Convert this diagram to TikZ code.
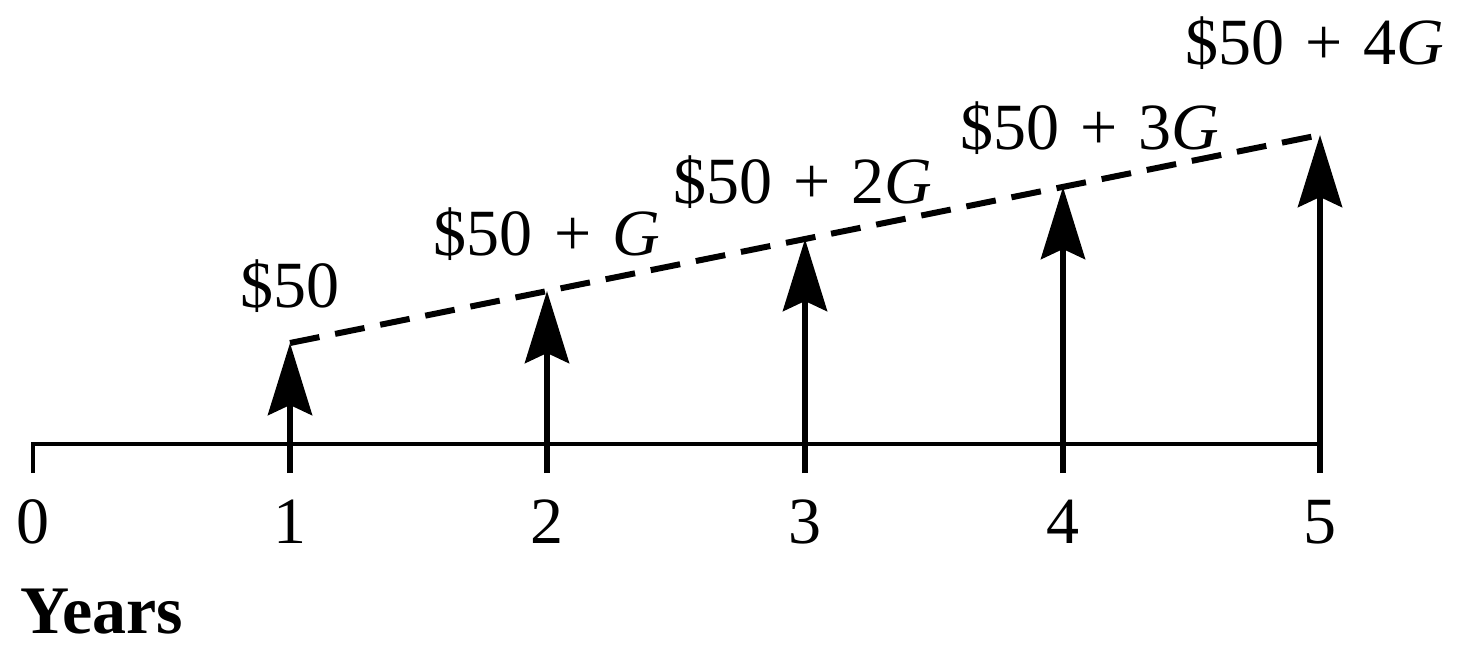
\documentclass[tikz,border=0pt]{standalone}
\usepackage{fontspec}
\setmainfont{Liberation Serif}
\usetikzlibrary{arrows.meta}
\newcommand{\pl}{\hspace{0.32em}+\hspace{0.32em}}
\begin{document}
\begin{tikzpicture}[x=0.5pt,y=-0.5pt,
  lbl/.style={font=\fontsize{33}{38}\selectfont, inner sep=0pt},
  axisline/.style={line width=2pt},
  cash/.style={line width=3.2pt, -{Stealth[length=36pt,width=22pt,inset=5pt]}},
  trend/.style={line width=3pt, dash pattern=on 15pt off 8pt}]
\useasboundingbox (0,0) rectangle (1468,647);
% axis points
\coordinate (b0) at (33,473);
\coordinate (a0) at (33,444);
\foreach \i/\x in {1/290,2/547,3/805,4/1063,5/1320}{
  \coordinate (b\i) at (\x,473);
  \coordinate (a\i) at (\x,444);
}
% tips
\coordinate (t1) at (290,343);
\coordinate (t2) at (547,291);
\coordinate (t3) at (805,239);
\coordinate (t4) at (1063,187);
\coordinate (t5) at (1320,135);
% axis
\draw[axisline] (b0) -- (a0) -- (a5);
% arrows
\foreach \i in {1,...,5}{
  \draw[cash] (b\i) -- (t\i);
}
% trend line
\draw[trend] (t1) -- (t5);
% year labels
\node[lbl] (y0) at (33,522) {0};
\node[lbl] (y1) at (290,522) {1};
\node[lbl] (y2) at (547,522) {2};
\node[lbl] (y3) at (805,522) {3};
\node[lbl] (y4) at (1063,522) {4};
\node[lbl] (y5) at (1320,522) {5};
\node[lbl, anchor=west, font=\fontsize{34}{38}\selectfont\bfseries] (yrs) at (20,612) {Years};
% amounts
\node[lbl] (c1) at (290,286) {\$50};
\node[lbl] (c2) at (547,234) {\$50\pl\textit{G}};
\node[lbl] (c3) at (803,182) {\$50\pl2\textit{G}};
\node[lbl] (c4) at (1090,128) {\$50\pl3\textit{G}};
\node[lbl] (c5) at (1315,43) {\$50\pl4\textit{G}};
\end{tikzpicture}
\end{document}
